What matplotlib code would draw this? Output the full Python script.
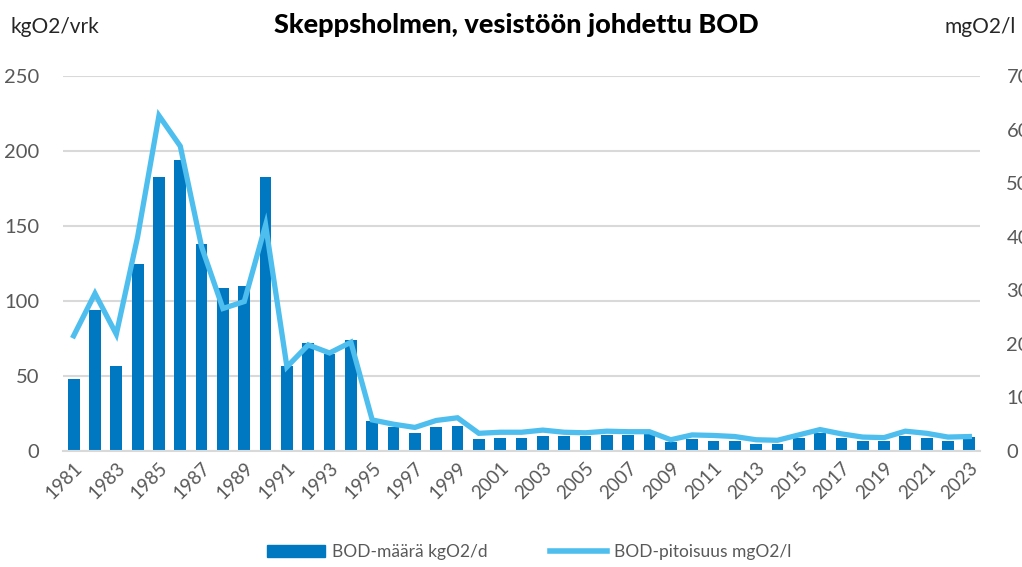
import matplotlib
matplotlib.use("Agg")
import matplotlib.pyplot as plt
from matplotlib.lines import Line2D
from matplotlib.patches import Patch

years = list(range(1981, 2024))
bod_load = [48, 94, 57, 125, 183, 194, 138, 109, 110, 183,
            57, 72, 65, 74, 20, 16, 12, 16, 17, 8,
            9, 9, 10, 10, 10, 11, 11, 13, 6, 8,
            7, 6.5, 5, 5, 9, 12, 9, 7, 7, 10,
            9, 7, 9.5]
bod_conc = [21.5, 29.4, 21.8, 40.0, 62.6, 56.9, 38.1, 26.6, 27.9, 42.2,
            15.7, 19.8, 18.3, 20.3, 5.8, 5.0, 4.4, 5.7, 6.2, 3.3,
            3.5, 3.5, 3.9, 3.5, 3.4, 3.7, 3.6, 3.6, 2.1, 3.0,
            2.9, 2.7, 2.1, 2.0, 3.0, 4.0, 3.2, 2.6, 2.5, 3.7,
            3.3, 2.6, 2.7]
left_ticks = [0, 50, 100, 150, 200, 250]
right_ticks = [0, 10, 20, 30, 40, 50, 60, 70]
year_labels = [str(y) for y in years[::2]]

title = "Skeppsholmen, vesistöön johdettu BOD"
left_label = "kgO2/vrk"
right_label = "mgO2/l"
bar_name = "BOD-määrä kgO2/d"
line_name = "BOD-pitoisuus mgO2/l"

bar_color = "#0077C1"
line_color = "#4EBEEE"
grid_color = "#D9D9D9"
text_color = "#595959"

plt.rcParams['font.family'] = ['Lato', 'DejaVu Sans']

fig = plt.figure(figsize=(10.22, 5.67), dpi=100)
ax = fig.add_axes([63/1022, 1-451/567, (980-63)/1022, (451-76)/567])
ax2 = ax.twinx()

x = list(range(len(years)))
ax.bar(x, bod_load, width=0.55, color=bar_color, zorder=2)
ax2.plot(x, bod_conc, color=line_color, lw=3.8, solid_joinstyle='miter', zorder=3)

ax.set_xlim(-0.5, len(years) - 0.5)
ax.set_ylim(0, 250)
ax2.set_ylim(0, 70)
ax.set_yticks(left_ticks)
ax2.set_yticks(right_ticks)
ax.set_xticks(x[::2])
ax.set_xticklabels(year_labels, rotation=45, ha='right', va='top',
                   rotation_mode='anchor', fontsize=13.5, color=text_color)
for lab in ax.get_yticklabels():
    lab.set_fontsize(14.5); lab.set_color(text_color)
for lab in ax2.get_yticklabels():
    lab.set_fontsize(14.5); lab.set_color(text_color)

ax.yaxis.grid(True, color=grid_color, lw=1.5, zorder=0)
ax.set_axisbelow(True)
for a in (ax, ax2):
    for s in a.spines.values():
        s.set_visible(False)
    a.tick_params(length=0)
ax.tick_params(axis='y', pad=17)
ax2.tick_params(axis='y', pad=19)
ax.tick_params(axis='x', pad=6)
ax.spines['bottom'].set_visible(True)
ax.spines['bottom'].set_color(grid_color)
ax.spines['bottom'].set_linewidth(1.5)

fig.text(516/1022, 1-25/567, title, ha='center', va='center', fontsize=19.5,
         fontweight='black', color='black')
fig.text(10/1022, 1-27/567, left_label, ha='left', va='center', fontsize=15,
         color='#262626')
fig.text(1016/1022, 1-27/567, right_label, ha='right', va='center', fontsize=15,
         color='#262626')

handles = [Patch(color=bar_color), Line2D([0], [0], color=line_color, lw=4)]
fig.legend(handles, [bar_name, line_name], loc='center', bbox_to_anchor=(0.518, 1-552/567),
           ncol=2, frameon=False, fontsize=12.5, handlelength=3.3, handletextpad=0.4,
           columnspacing=3.6, labelcolor=text_color)

fig.savefig("out.png", dpi=100)
